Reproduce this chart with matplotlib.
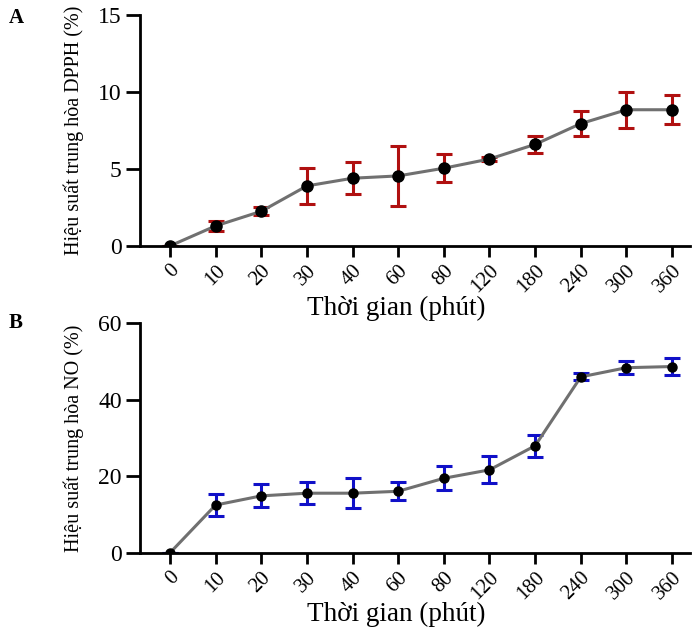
import matplotlib as mpl
import matplotlib.pyplot as plt
import numpy as np

mpl.rcParams.update({
    "font.family": ["Liberation Serif", "DejaVu Serif"],
    "font.size": 13,
    "axes.linewidth": 2.0,
})

times = ["0", "10", "20", "30", "40", "60", "80", "120", "180", "240", "300", "360"]

dpph_mean = [0, 1.3, 2.25, 3.9, 4.4, 4.55, 5.05, 5.65, 6.6, 7.95, 8.85, 8.85]
dpph_err = [0, 0.3, 0.25, 1.18, 1.05, 1.95, 0.9, 0.1, 0.57, 0.83, 1.17, 0.95]

no_mean = [0, 12.5, 14.9, 15.6, 15.6, 16.1, 19.5, 21.7, 28.0, 46.0, 48.4, 48.7]
no_err = [0, 2.9, 3.0, 2.85, 3.9, 2.4, 3.15, 3.5, 2.85, 0.9, 1.7, 2.2]


def draw(ax, mean, err, ecolor, ms, ylim, yticks, ylabel):
    x = np.arange(len(times))
    ax.errorbar(x, mean, yerr=err, fmt="none", ecolor=ecolor, elinewidth=2.2,
                capsize=6, capthick=2.2, zorder=2)
    ax.plot(x, mean, color="#707070", lw=2.2, zorder=3)
    ax.plot(x, mean, "o", color="black", ms=ms, zorder=4)
    ax.set_xlim(-0.66, 11.39)
    ax.set_ylim(*ylim)
    ax.set_yticks(yticks)
    ax.set_xticks(x)
    ax.set_xticklabels(times, rotation=45, ha="right", rotation_mode="anchor")
    ax.tick_params(axis="y", length=10, width=2, labelsize=17, pad=3)
    ax.tick_params(axis="x", length=8, width=2, labelsize=15, pad=3)
    ax.set_xlabel("Thời gian (phút)", fontsize=19.5, labelpad=-1)
    ax.xaxis.label.set_x(0.467)
    ax.set_ylabel(ylabel, fontsize=14.5, labelpad=10)
    for s in ("top", "right"):
        ax.spines[s].set_visible(False)


fig = plt.figure(figsize=(6.92, 6.29), dpi=100)
axA = fig.add_axes([0.202, 0.609, 0.795, 0.367])
axB = fig.add_axes([0.202, 0.121, 0.795, 0.365])

draw(axA, dpph_mean, dpph_err, "#b01010", 8, (0, 15), [0, 5, 10, 15],
     "Hiệu suất trung hòa DPPH (%)")
draw(axB, no_mean, no_err, "#1010c8", 6.5, (0, 60), [0, 20, 40, 60],
     "Hiệu suất trung hòa NO (%)")

fig.text(0.012, 0.972, "A", fontsize=15, weight="bold", va="center")
fig.text(0.012, 0.487, "B", fontsize=15, weight="bold", va="center")

fig.savefig("out.png", dpi=100)
